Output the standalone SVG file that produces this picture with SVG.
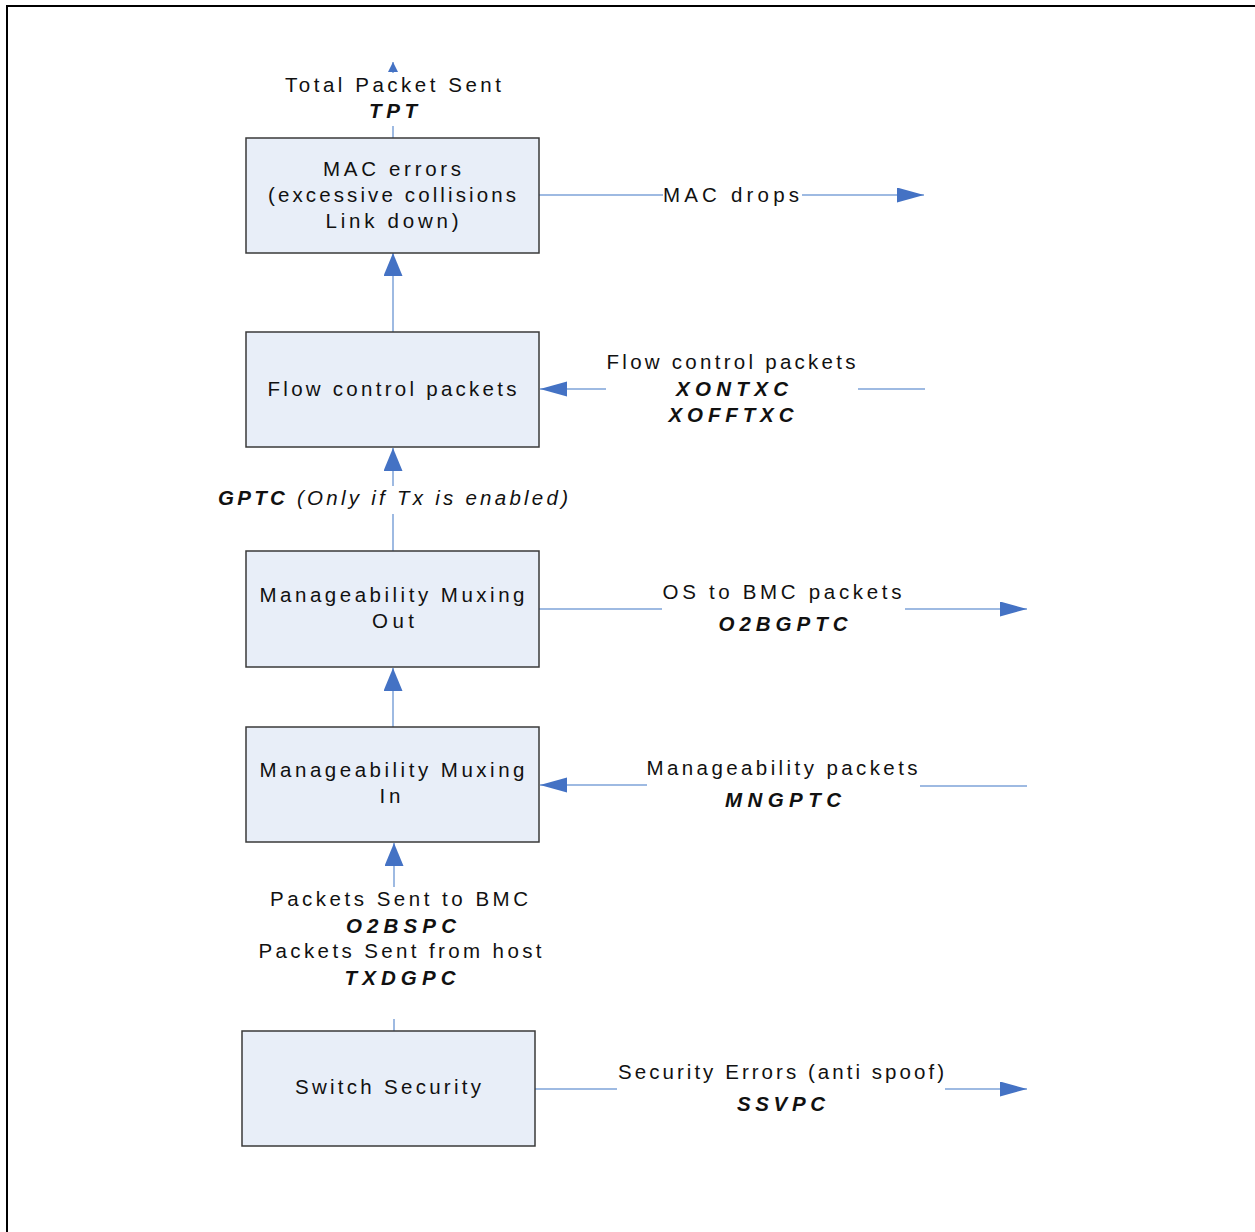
<svg xmlns="http://www.w3.org/2000/svg" width="1255" height="1232" viewBox="0 0 1255 1232">
<style>
.box{fill:#e8eef8;stroke:#3a3a3a;stroke-width:1.5}
.t{font-family:"Liberation Sans",Arial,sans-serif;font-size:20.5px;fill:#111;text-anchor:middle}
.b{font-weight:bold;font-style:italic}
.i{font-style:italic}
.ln{stroke:#7ea3d8;stroke-width:1.5;fill:none}
</style>
<defs>
<marker id="ah" markerUnits="userSpaceOnUse" markerWidth="28" markerHeight="16" refX="27" refY="7.5" orient="auto"><path d="M0,0 L27,7.5 L0,15 Z" fill="#4472c4"/></marker>
<marker id="av" markerUnits="userSpaceOnUse" markerWidth="24" markerHeight="20" refX="23" refY="9.5" orient="auto"><path d="M0,0 L23,9.5 L0,19 Z" fill="#4472c4"/></marker>
<marker id="as" markerUnits="userSpaceOnUse" markerWidth="11" markerHeight="11" refX="10" refY="5" orient="auto"><path d="M0,0 L10,5 L0,10 Z" fill="#4472c4"/></marker>
</defs>
<rect width="1255" height="1232" fill="#fff"/>
<path d="M7,1232 L7,6 L1255,6" fill="none" stroke="#000" stroke-width="2"/>

<g id="connectors">
<line class="ln" x1="393" y1="138" x2="393" y2="126"/>
<line class="ln" x1="393" y1="73" x2="393" y2="62" marker-end="url(#as)"/>
<line class="ln" x1="539" y1="195" x2="663" y2="195"/>
<line class="ln" x1="802" y1="195" x2="924" y2="195" marker-end="url(#ah)"/>
<line class="ln" x1="393" y1="332" x2="393" y2="253" marker-end="url(#av)"/>
<line class="ln" x1="925" y1="389" x2="858" y2="389"/>
<line class="ln" x1="606" y1="389" x2="540" y2="389" marker-end="url(#ah)"/>
<line class="ln" x1="393" y1="551" x2="393" y2="514"/>
<line class="ln" x1="393" y1="486" x2="393" y2="448" marker-end="url(#av)"/>
<line class="ln" x1="539" y1="609" x2="662" y2="609"/>
<line class="ln" x1="905" y1="609" x2="1027" y2="609" marker-end="url(#ah)"/>
<line class="ln" x1="393" y1="727" x2="393" y2="668" marker-end="url(#av)"/>
<line class="ln" x1="1027" y1="786" x2="920" y2="786"/>
<line class="ln" x1="647" y1="785" x2="540" y2="785" marker-end="url(#ah)"/>
<line class="ln" x1="394" y1="1031" x2="394" y2="1019"/>
<line class="ln" x1="394" y1="887" x2="394" y2="843" marker-end="url(#av)"/>
<line class="ln" x1="535" y1="1089" x2="617" y2="1089"/>
<line class="ln" x1="945" y1="1089" x2="1027" y2="1089" marker-end="url(#ah)"/>
</g>

<g id="labels">
<text class="t" x="393" y="92" textLength="216" lengthAdjust="spacing">Total Packet Sent</text>
<text class="t b" x="393" y="118" textLength="48" lengthAdjust="spacing">TPT</text>
<text class="t" x="731" y="202" textLength="136" lengthAdjust="spacing">MAC drops</text>
<text class="t" x="731" y="369" textLength="249" lengthAdjust="spacing">Flow control packets</text>
<text class="t b" x="732" y="396" textLength="112" lengthAdjust="spacing">XONTXC</text>
<text class="t b" x="731" y="422" textLength="125" lengthAdjust="spacing">XOFFTXC</text>
<text class="t" x="393" y="505" textLength="350" lengthAdjust="spacing"><tspan class="b">GPTC</tspan><tspan class="i"> (Only if Tx is enabled)</tspan></text>
<text class="t" x="782" y="599" textLength="239" lengthAdjust="spacing">OS to BMC packets</text>
<text class="t b" x="783" y="631" textLength="129" lengthAdjust="spacing">O2BGPTC</text>
<text class="t" x="782" y="775" textLength="271" lengthAdjust="spacing">Manageability packets</text>
<text class="t b" x="783" y="807" textLength="116" lengthAdjust="spacing">MNGPTC</text>
<text class="t" x="399" y="906" textLength="258" lengthAdjust="spacing">Packets Sent to BMC</text>
<text class="t b" x="401" y="933" textLength="110" lengthAdjust="spacing">O2BSPC</text>
<text class="t" x="400" y="958" textLength="283" lengthAdjust="spacing">Packets Sent from host</text>
<text class="t b" x="400" y="985" textLength="111" lengthAdjust="spacing">TXDGPC</text>
<text class="t" x="781" y="1079" textLength="326" lengthAdjust="spacing">Security Errors (anti spoof)</text>
<text class="t b" x="781" y="1111" textLength="88" lengthAdjust="spacing">SSVPC</text>
</g>

<g id="mac-errors">
<rect class="box" x="246" y="138" width="293" height="115"/>
<text class="t" x="392" y="176" textLength="138" lengthAdjust="spacing">MAC errors</text>
<text class="t" x="392" y="202" textLength="248" lengthAdjust="spacing">(excessive collisions</text>
<text class="t" x="392" y="228" textLength="133" lengthAdjust="spacing">Link down)</text>
</g>
<g id="flow-control">
<rect class="box" x="246" y="332" width="293" height="115"/>
<text class="t" x="392" y="396" textLength="249" lengthAdjust="spacing">Flow control packets</text>
</g>
<g id="mux-out">
<rect class="box" x="246" y="551" width="293" height="116"/>
<text class="t" x="392" y="602" textLength="265" lengthAdjust="spacing">Manageability Muxing</text>
<text class="t" x="393" y="628" textLength="42" lengthAdjust="spacing">Out</text>
</g>
<g id="mux-in">
<rect class="box" x="246" y="727" width="293" height="115"/>
<text class="t" x="392" y="777" textLength="265" lengthAdjust="spacing">Manageability Muxing</text>
<text class="t" x="390" y="803" textLength="21" lengthAdjust="spacing">In</text>
</g>
<g id="switch-security">
<rect class="box" x="242" y="1031" width="293" height="115"/>
<text class="t" x="388" y="1094" textLength="186" lengthAdjust="spacing">Switch Security</text>
</g>
</svg>
